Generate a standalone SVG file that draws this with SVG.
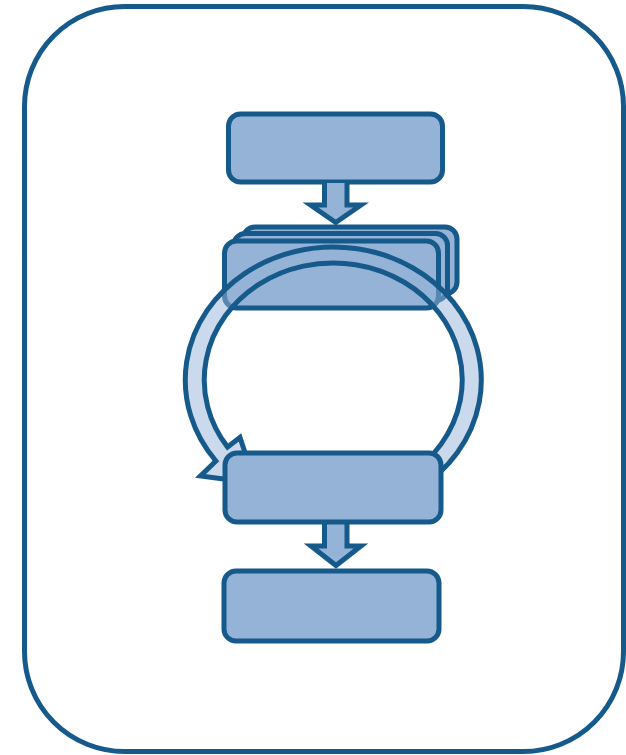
<svg xmlns="http://www.w3.org/2000/svg" width="626" height="755" viewBox="0 0 626 755">
  <style>
    .frame { fill: #ffffff; stroke: #155a8b; stroke-width: 5; }
    .box { fill: #95b3d7; stroke: #155a8b; stroke-width: 5; }
    .arrow { fill: #95b3d7; stroke: #155a8b; stroke-width: 5; stroke-linejoin: miter; }
    .ring { fill: #95b3d7; fill-opacity: 0.5; stroke: #155a8b; stroke-width: 5; stroke-linejoin: miter; }
  </style>
  <rect width="626" height="755" fill="#ffffff"/>
  <rect id="frame" class="frame" x="24.5" y="6.5" width="599" height="745" rx="100" ry="100"/>

  <g id="node-top">
    <rect class="box" x="228.5" y="114" width="214" height="68" rx="12"/>
  </g>
  <g id="node-stack">
    <rect class="box" x="243" y="227" width="214" height="67" rx="12"/>
    <rect class="box" x="233.5" y="233.5" width="214" height="67" rx="12"/>
    <rect class="box" x="224.5" y="241" width="214" height="67" rx="12"/>
  </g>

  <g id="connectors">
    <path id="loop-arrow" class="ring" d="M215.9,461 L200.5,476 L255,483 L240,437.5 L227.6,447.1 A129,117 0 1 1 407.2,475.8 L418.1,489 A148,133 0 1 0 215.9,461 Z"/>
    <path id="arrow-1" class="arrow" d="M324.5,183 V205 H310.5 L335.75,222.5 L361,205 H347 V183"/>
    <path id="arrow-2" class="arrow" d="M324.5,523 V546 H311 L336,565.5 L361,546 H347 V523"/>
  </g>

  <g id="node-loop">
    <rect class="box" x="225" y="453" width="216" height="69" rx="12"/>
  </g>
  <g id="node-bottom">
    <rect class="box" x="224" y="571" width="215" height="70" rx="12"/>
  </g>
</svg>
